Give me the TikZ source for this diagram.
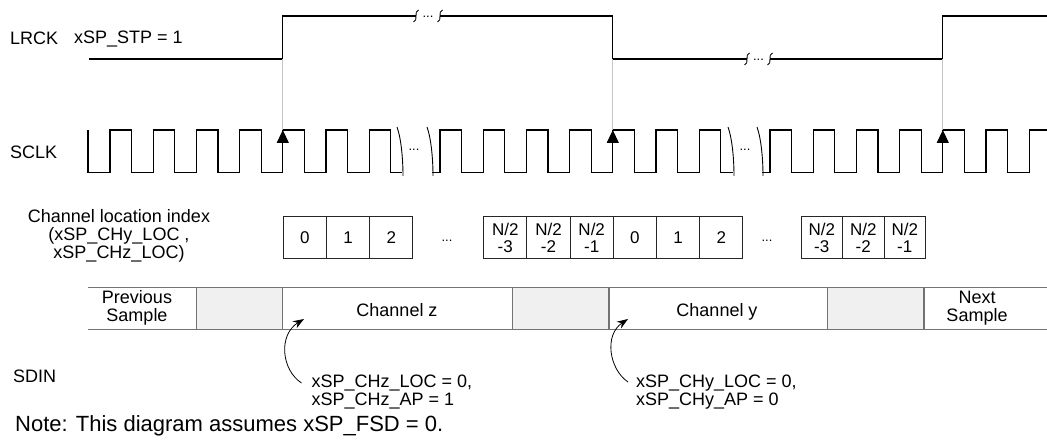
\documentclass[tikz,border=0pt]{standalone}
\usepackage{fontspec}
\setmainfont{Liberation Sans}
\usetikzlibrary{arrows.meta,positioning}

\begin{document}
\begin{tikzpicture}[>=Stealth, x=1pt, y=-1pt,
  font=\fontsize{18}{18}\selectfont,
  wave/.style={line width=1.2pt},
  brk/.style={line width=0.9pt},
  guide/.style={gray!45, line width=0.9pt},
  edgearrow/.style={wave, -{Triangle[length=13pt,width=12pt]}},
  idxbox/.style={draw=black!85, line width=1pt, minimum width=43.2pt,
    minimum height=42.3pt, inner sep=0pt, align=center,
    font=\fontsize{17}{17}\selectfont},
  barline/.style={black!55, line width=1.5pt},
  gapfill/.style={fill=black!6},
  pointer/.style={line width=0.8pt, -{Stealth[length=11pt,width=8pt]}},
  dots/.style={font=\fontsize{13}{13}\selectfont, inner sep=0pt, anchor=base},
  siglabel/.style={anchor=west, inner sep=0pt},
  annot/.style={align=left, anchor=north west, inner sep=0pt,
    font=\fontsize{18}{18}\selectfont},
  twoline/.style={align=center, inner sep=0pt, font=\fontsize{18}{18}\selectfont},
]
  \useasboundingbox (0,0) rectangle (1047,443);

  %--- parameters to tweak layout easily
  \def\hp{21.6}            % SCLK half period
  \def\yhi{16}             % LRCK high
  \def\ylo{59}             % LRCK low
  \def\ckhi{130}           % SCLK high
  \def\cklo{172.7}         % SCLK low
  \def\eA{282.8}           % sampling edges
  \def\eB{612.8}
  \def\eC{942.8}
  \def\ytop{287.3}         % SDIN bar
  \def\ybot{329.3}

  %--- signal names
  \node[siglabel] (lrck) at (10,38) {LRCK};
  \node[siglabel] (stp) at (74,39) {xSP\_STP = 1};
  \node[siglabel] (sclk) at (10,152) {SCLK};
  \node[siglabel] (sdin) at (13,376) {SDIN};

  %--- LRCK
  \draw[wave] (89,\ylo) -- (\eA,\ylo) -- (\eA,\yhi) -- (416,\yhi);
  \draw[wave] (440,\yhi) -- (\eB,\yhi) -- (\eB,\ylo) -- (747,\ylo);
  \draw[wave] (770,\ylo) -- (\eC,\ylo) -- (\eC,\yhi) -- (1047,\yhi);
  \foreach \bx/\by in {416/\yhi,440/\yhi,747/\ylo,770/\ylo}
    \draw[brk] (\bx+2.5,\by-6) .. controls (\bx-2.5,\by-5) and (\bx+2.5,\by+5) .. (\bx-2.5,\by+6);
  \node[dots] (lgap1) at (428,\yhi+1.5) {...};
  \node[dots] (lgap2) at (758.5,\ylo+1.5) {...};

  %--- SCLK
  \draw[wave] (88,\ckhi) -- (88,\cklo)
    foreach \k in {0,...,6}{ -- ({110+2*\hp*\k},\cklo) -- ({110+2*\hp*\k},\ckhi)
      -- ({110+2*\hp*\k+\hp},\ckhi) -- ({110+2*\hp*\k+\hp},\cklo) }
    -- (402,\cklo);
  \draw[wave] (432,\cklo)
    foreach \k in {0,...,6}{ -- ({440+2*\hp*\k},\cklo) -- ({440+2*\hp*\k},\ckhi)
      -- ({440+2*\hp*\k+\hp},\ckhi) -- ({440+2*\hp*\k+\hp},\cklo) }
    -- (733,\cklo);
  \draw[wave] (762,\cklo)
    foreach \k in {0,...,5}{ -- ({770+2*\hp*\k},\cklo) -- ({770+2*\hp*\k},\ckhi)
      -- ({770+2*\hp*\k+\hp},\ckhi) -- ({770+2*\hp*\k+\hp},\cklo) }
    -- (1029.2,\cklo) -- (1029.2,\ckhi) -- (1047,\ckhi);
  \foreach \bx in {397,427,728,757}
    \draw[brk] (\bx,127) .. controls (\bx+4,138) and (\bx+6,158) .. (\bx+6,176);
  \node[dots] (cgap1) at (414,151) {...};
  \node[dots] (cgap2) at (745,151) {...};

  %--- sampling edges
  \foreach \e/\n in {\eA/a,\eB/b,\eC/c}{
    \coordinate (lr\n) at (\e,\ylo);
    \coordinate (ck\n) at (\e,\ckhi);
    \draw[guide] (lr\n) -- (ck\n);
    \draw[edgearrow] (\e,\cklo) -- (ck\n);
  }

  %--- channel location index
  \node[twoline] (idxlbl) at (119,236)
    {Channel location index\\(xSP\_CHy\_LOC ,\\xSP\_CHz\_LOC)};
  \foreach \t [count=\i from 0] in {0,1,2}
    \node[idxbox, anchor=north west] (za\i) at ({\eA+43.2*\i},216) {\t};
  \foreach \t [count=\i from 0] in {N/2\\-3,N/2\\-2,N/2\\-1,0,1,2}
    \node[idxbox, anchor=north west] (zb\i) at ({483.2+43.2*\i},216) {\t};
  \foreach \t [count=\i from 0] in {N/2\\-3,N/2\\-2,N/2\\-1}
    \node[idxbox, anchor=north west, minimum width=41.5pt] (zc\i) at ({800.5+41.5*\i},216) {\t};
  \node[dots] (igap1) at (447,242) {...};
  \node[dots] (igap2) at (767,242) {...};

  %--- SDIN slots
  \fill[gapfill] (196.7,\ytop) rectangle (282.7,\ybot);
  \fill[gapfill] (512.5,\ytop) rectangle (609,\ybot);
  \fill[gapfill] (827.7,\ytop) rectangle (924,\ybot);
  \draw[barline] (88.3,\ytop) -- (1047,\ytop) (88.3,\ybot) -- (1047,\ybot);
  \foreach \sx in {196.7,282.7,512.5,609,827.7,924}
    \draw[barline] (\sx,\ytop) -- (\sx,\ybot);
  \node[twoline] (prev) at (137,308.3) {Previous\\Sample};
  \node[anchor=base] (chz) at (397,316.5) {Channel z};
  \node[anchor=base] (chy) at (717,316.5) {Channel y};
  \node[twoline] (next) at (977,308.3) {Next\\Sample};

  %--- location / polarity notes
  \node[annot] (zlbl) at (311.5,375) {xSP\_CHz\_LOC = 0,\\xSP\_CHz\_AP = 1};
  \node[annot] (ylbl) at (636,375) {xSP\_CHy\_LOC = 0,\\xSP\_CHy\_AP = 0};
  \coordinate (ztip) at (304,319);
  \coordinate (ytip) at (628,319);
  \draw[pointer] ([shift={(-10,8)}]zlbl.north west) .. controls +(-20,-13) and +(-26,16) .. (ztip);
  \draw[pointer] ([shift={(-8,7)}]ylbl.north west) .. controls +(-19,-13) and +(-24,16) .. (ytip);

  \node[anchor=west, inner sep=0pt, font=\fontsize{22}{22}\selectfont] (note) at (15,426)
    {Note: This diagram assumes xSP\_FSD = 0.};
\end{tikzpicture}
\end{document}
